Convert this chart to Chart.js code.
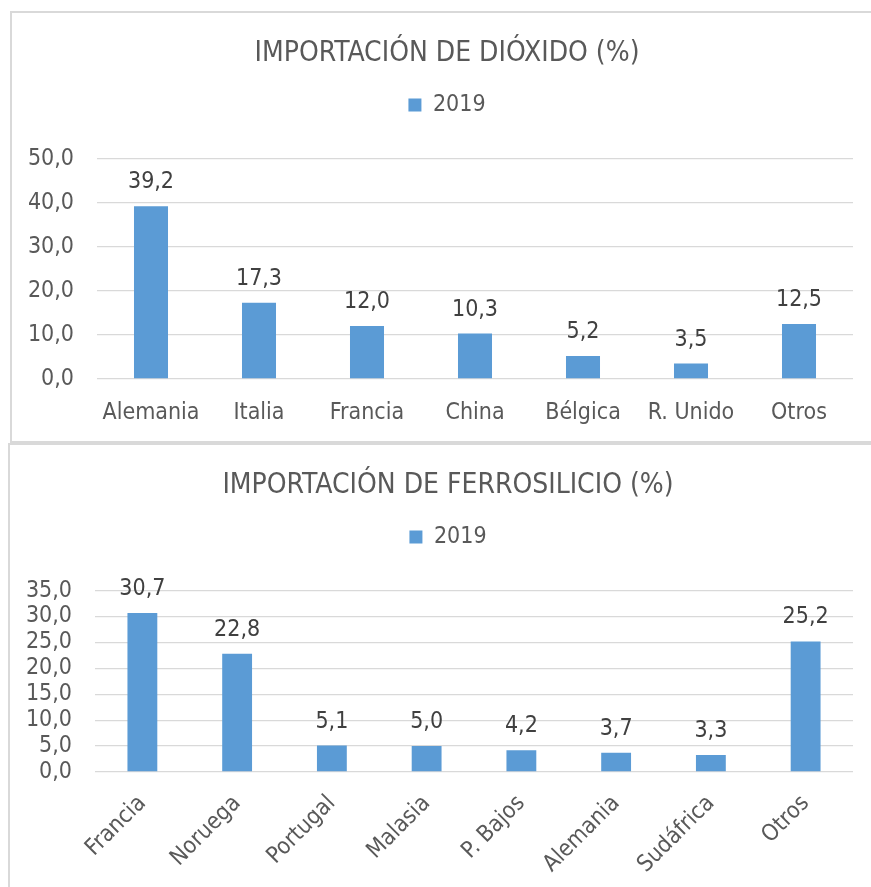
<!DOCTYPE html>
<html>
<head>
<meta charset="utf-8">
<script src="https://cdn.jsdelivr.net/npm/chart.js@4.4.1/dist/chart.umd.min.js"></script>
<style>
  body { margin: 0; background: #fff; width: 871px; height: 887px; overflow: hidden; position: relative; }
  .frame { position: absolute; border: 2px solid #d9d9d9; box-sizing: border-box; background: #fff; }
  #frame1 { left: 10px; top: 11px; width: 880px; height: 432px; }
  #frame2 { left: 8px; top: 443px; width: 880px; height: 460px; }
  canvas { position: absolute; }
  #dioxido { left: 12px; top: 13px; }
  #ferrosilicio { left: 10px; top: 445px; }
</style>
</head>
<body>
<div class="frame" id="frame1"></div>
<div class="frame" id="frame2"></div>
<canvas id="dioxido" width="870" height="428"></canvas>
<canvas id="ferrosilicio" width="876" height="442"></canvas>
<script>
// Importación de dióxido (%), 2019
const dioxidoPaises = ["Alemania", "Italia", "Francia", "China", "Bélgica", "R. Unido", "Otros"];
const dioxido2019 = [39.2, 17.3, 12.0, 10.3, 5.2, 3.5, 12.5];
const dioxidoTicks = [0, 10, 20, 30, 40, 50];

// Importación de ferrosilicio (%), 2019
const ferroPaises = ["Francia", "Noruega", "Portugal", "Malasia", "P. Bajos", "Alemania", "Sudáfrica", "Otros"];
const ferro2019 = [30.7, 22.8, 5.1, 5.0, 4.2, 3.7, 3.3, 25.2];
const ferroTicks = [0, 5, 10, 15, 20, 25, 30, 35];

const FONT = "'DejaVu Sans Condensed', 'DejaVu Sans', sans-serif";
const GRAY = "#595959";
const BLUE = "#5B9BD5";

const fmt = v => Number(v).toFixed(1).replace(".", ",");

// value labels above the bars
const valueLabels = {
  id: "valueLabels",
  afterDatasetsDraw(chart) {
    const ctx = chart.ctx;
    const meta = chart.getDatasetMeta(0);
    ctx.save();
    ctx.font = "23px " + FONT;
    ctx.fillStyle = "#404040";
    ctx.textAlign = "center";
    ctx.textBaseline = "middle";
    meta.data.forEach((bar, i) => {
      ctx.fillText(fmt(chart.data.datasets[0].data[i]), bar.x, bar.y - 24);
    });
    ctx.restore();
  }
};

// extra room below the legend
const legendGap = {
  id: "legendGap",
  beforeInit(chart) {
    const fit = chart.legend.fit;
    chart.legend.fit = function () {
      fit.bind(chart.legend)();
      this.height += 32;
    };
  }
};

function makeChart(id, title, labels, values, ticks, opts) {
  const ctx = document.getElementById(id).getContext("2d");
  return new Chart(ctx, {
    type: "bar",
    data: {
      labels: labels,
      datasets: [{
        label: "2019",
        data: values,
        backgroundColor: BLUE,
        borderWidth: 0,
        barPercentage: 0.63,
        categoryPercentage: 0.5
      }]
    },
    options: {
      responsive: false,
      animation: false,
      layout: { padding: 0 },
      plugins: {
        title: {
          display: true,
          text: title,
          color: GRAY,
          font: { family: FONT, size: 28, weight: "normal" },
          padding: { top: 24, bottom: 13 }
        },
        legend: {
          display: true,
          labels: {
            color: GRAY,
            font: { family: FONT, size: 23 },
            boxWidth: 13,
            boxHeight: 13,
            padding: 10
          }
        },
        tooltip: { enabled: false }
      },
      scales: {
        x: {
          grid: { display: false, drawTicks: false },
          border: { display: false },
          ticks: {
            color: GRAY,
            font: { family: FONT, size: 23 },
            padding: opts.xPad,
            minRotation: opts.rotation,
            maxRotation: opts.rotation,
            autoSkip: false
          },
          afterFit: axis => { axis.height = opts.xHeight; }
        },
        y: {
          min: 0,
          max: ticks[ticks.length - 1],
          afterBuildTicks: axis => { axis.ticks = ticks.map(v => ({ value: v })); },
          grid: { color: "#d9d9d9", lineWidth: 1.3, drawTicks: false },
          border: { display: false },
          ticks: {
            color: GRAY,
            font: { family: FONT, size: 23, lineHeight: 1 },
            padding: 23,
            autoSkip: false,
            callback: v => fmt(v)
          },
          afterFit: axis => { axis.width = 85; }
        },
        // empty right margin
        yRight: {
          position: "right",
          grid: { display: false, drawTicks: false },
          border: { display: false },
          ticks: { display: false },
          afterFit: axis => { axis.width = opts.rightGap; }
        }
      }
    },
    plugins: [valueLabels, legendGap]
  });
}

makeChart("dioxido", "IMPORTACIÓN DE DIÓXIDO (%)", dioxidoPaises, dioxido2019, dioxidoTicks,
  { rotation: 0, xHeight: 62, xPad: 20, rightGap: 29 });
makeChart("ferrosilicio", "IMPORTACIÓN DE FERROSILICIO (%)", ferroPaises, ferro2019, ferroTicks,
  { rotation: 45, xHeight: 115, xPad: 18, rightGap: 33 });
</script>
</body>
</html>
